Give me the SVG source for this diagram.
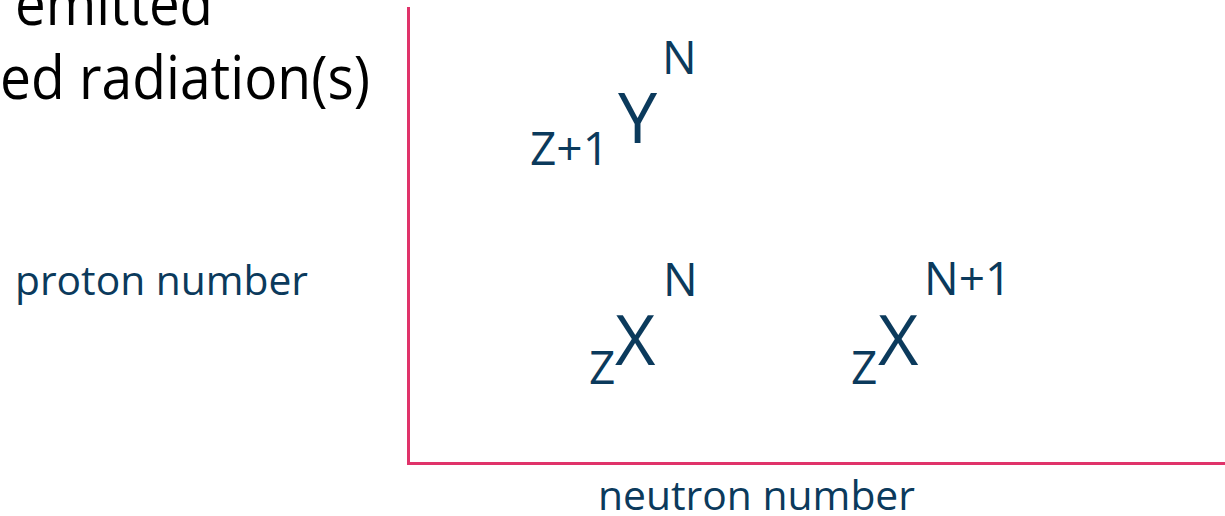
<svg xmlns="http://www.w3.org/2000/svg" width="1225" height="516" viewBox="0 0 1225 516">
  <style>
    .lbl { font-family: "Open Sans", "Liberation Sans", sans-serif; fill: #0b3a5c; }
    .cap { font-family: "Open Sans", "Liberation Sans", sans-serif; fill: #000000; font-size: 60px; }
    .axis { stroke: #e0336a; stroke-width: 3; fill: none; }
    .big { font-size: 70px; }
    .small { font-size: 46px; }
    .axlbl { font-size: 40px; }
  </style>
  <rect width="1225" height="516" fill="#ffffff"/>
  <g id="caption">
    <text class="cap" x="15" y="25" textLength="198" lengthAdjust="spacingAndGlyphs">emitted</text>
    <text class="cap" x="0" y="99" textLength="370" lengthAdjust="spacingAndGlyphs">ed radiation(s)</text>
  </g>
  <g id="axes">
    <path class="axis" d="M408.5 7 V463.5 H1225"/>
  </g>
  <g id="label-proton">
    <text class="lbl axlbl" x="15" y="295" textLength="293" lengthAdjust="spacingAndGlyphs">proton number</text>
  </g>
  <g id="label-neutron">
    <text class="lbl axlbl" x="598" y="510" textLength="317" lengthAdjust="spacingAndGlyphs">neutron number</text>
  </g>
  <g id="node-Y">
    <text class="lbl small" x="530" y="165">Z+1</text>
    <text class="lbl big" x="618" y="143">Y</text>
    <text class="lbl small" x="662" y="74">N</text>
  </g>
  <g id="node-X">
    <text class="lbl small" x="589" y="384">Z</text>
    <text class="lbl big" x="615" y="365">X</text>
    <text class="lbl small" x="663" y="296">N</text>
  </g>
  <g id="node-X2">
    <text class="lbl small" x="851" y="384">Z</text>
    <text class="lbl big" x="878" y="365">X</text>
    <text class="lbl small" x="924" y="295">N+1</text>
  </g>
</svg>
